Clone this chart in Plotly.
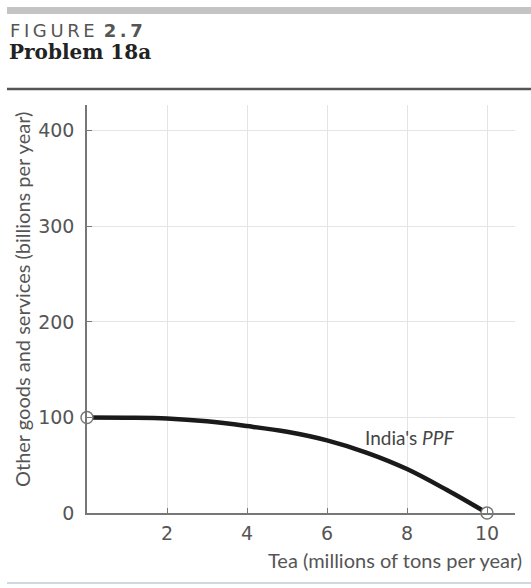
import plotly.graph_objects as go

# Data
tea = [0, 1, 2, 3, 4, 5, 6, 7, 8, 9, 10]
other_goods = [100, 99.8, 99, 96, 91, 85, 76, 63, 46, 24, 0]
end_tea = [0, 10]
end_goods = [100, 0]
x_ticks = [2, 4, 6, 8, 10]
y_ticks = [0, 100, 200, 300, 400]

W, H = 531, 588
ML, MR, MT, MB = 87, 16, 105, 75
PW, PH = W - ML - MR, H - MT - MB

def px(x):
    return (x - ML) / PW

def py(y):
    return (H - MB - y) / PH

fig = go.Figure()
fig.add_trace(go.Scatter(x=tea, y=other_goods, mode="lines",
                         line=dict(color="#1a1a1a", width=4.5, shape="spline", smoothing=1.0),
                         hoverinfo="skip", showlegend=False))
fig.add_trace(go.Scatter(x=end_tea, y=end_goods, mode="markers",
                         marker=dict(size=12, color="white", line=dict(color="#777", width=1.5)),
                         cliponaxis=False, showlegend=False))

tick_font = dict(family="'DejaVu Sans', sans-serif", size=19, color="#555")
title_font = "Lato, 'Open Sans', sans-serif"

fig.update_layout(
    width=W, height=H,
    margin=dict(l=ML, r=MR, t=MT, b=MB),
    paper_bgcolor="white", plot_bgcolor="white",
    xaxis=dict(range=[0, 10.7], tickvals=x_ticks, ticktext=[str(v) for v in x_ticks],
               showgrid=True, gridcolor="#e4e4e4", gridwidth=1,
               showline=True, linecolor="#777", linewidth=1.5, zeroline=False,
               ticks="inside", ticklen=5, tickcolor="#777", ticklabelstandoff=2,
               tickfont=tick_font, fixedrange=True),
    yaxis=dict(range=[0, 427], tickvals=y_ticks, ticktext=[str(v) for v in y_ticks],
               showgrid=True, gridcolor="#e4e4e4", gridwidth=1,
               showline=True, linecolor="#777", linewidth=1.5, zeroline=False,
               ticks="inside", ticklen=5, tickcolor="#777", ticklabelstandoff=7,
               tickfont=tick_font, fixedrange=True),
    shapes=[
        dict(type="rect", xref="paper", yref="paper", x0=px(7), x1=px(531), y0=py(14), y1=py(7),
             fillcolor="#c4c4c4", line=dict(width=0)),
        dict(type="line", xref="paper", yref="paper", x0=px(7), x1=px(531), y0=py(89), y1=py(89),
             line=dict(color="#555", width=2.5)),
        dict(type="line", xref="paper", yref="paper", x0=px(7), x1=px(531), y0=py(583), y1=py(583),
             line=dict(color="#cfd8e2", width=2)),
    ],
    annotations=[
        dict(xref="paper", yref="paper", x=px(8), y=py(30), xanchor="left", yanchor="middle",
             text="F\u2009I\u2009G\u2009U\u2009R\u2009E\u2002<b>2\u2009.\u20097</b>", showarrow=False,
             font=dict(family="'DejaVu Sans', sans-serif", size=18, color="#555")),
        dict(xref="paper", yref="paper", x=px(7), y=py(52), xanchor="left", yanchor="middle",
             text="<b>Problem 18a</b>", showarrow=False,
             font=dict(family="'DejaVu Serif', serif", size=20, color="#222")),
        dict(xref="paper", yref="paper", x=px(22), y=py(300), xanchor="center", yanchor="middle",
             text="Other goods and services (billions per year)", textangle=-90, showarrow=False,
             font=dict(family=title_font, size=20, color="#555")),
        dict(xref="paper", yref="paper", x=px(524), y=py(560), xanchor="right", yanchor="middle",
             text="Tea (millions of tons per year)", showarrow=False,
             font=dict(family=title_font, size=20, color="#555")),
        dict(x=8.05, y=79, xref="x", yref="y", xanchor="center", yanchor="middle",
             text="India's <i>PPF</i>", showarrow=False,
             font=dict(family=title_font, size=19, color="#444")),
    ],
)

fig.write_html("out.html", config={"displayModeBar": False},
               post_script="document.body.style.margin='0';")
